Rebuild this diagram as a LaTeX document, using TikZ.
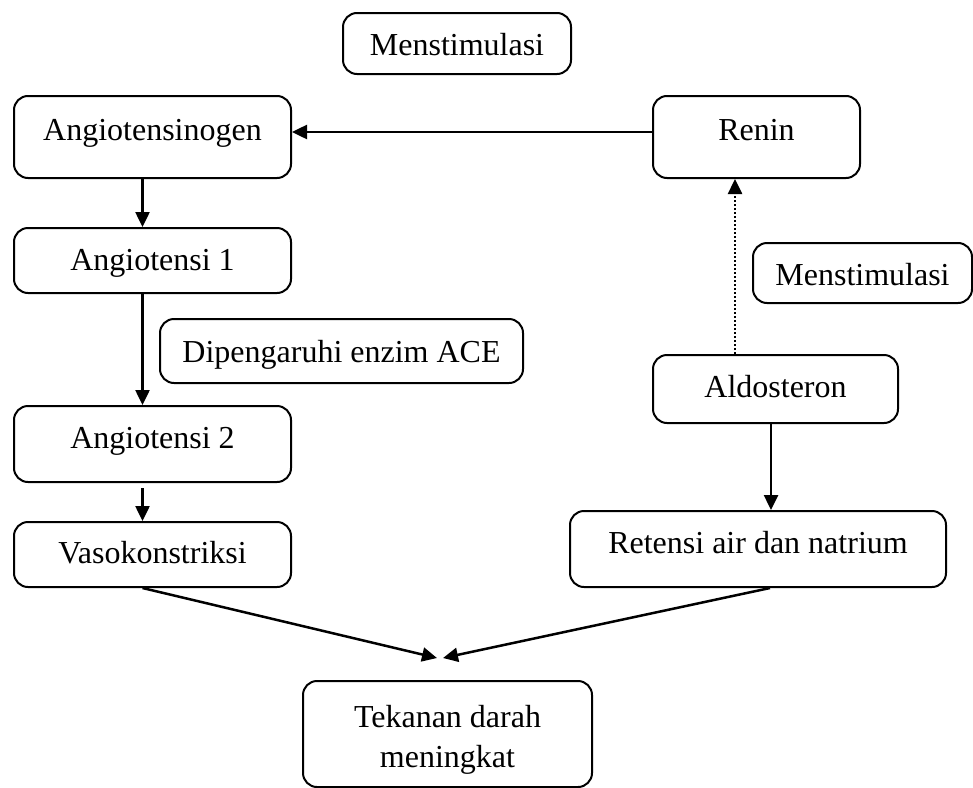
\documentclass[tikz,border=0pt]{standalone}
\usepackage{fontspec}
\setmainfont{Liberation Serif}
\usetikzlibrary{arrows.meta}

\tikzset{
  kotak/.style={draw, rounded corners=14pt, line width=2pt, inner sep=0pt,
    align=center, font=\fontsize{32pt}{40pt}\selectfont},
  panah/.style={line width=2.5pt, -{Triangle[length=15pt,width=14pt]}}
}

\begin{document}
\begin{tikzpicture}[x=1pt,y=-1pt]
\useasboundingbox (0,0) rectangle (973,787);

\node [kotak, minimum width=228pt, text height=42pt, text depth=19pt] (stim1) at (457,43.5) {Menstimulasi};
\node [kotak, minimum width=277pt, text height=44pt, text depth=38pt] (ango) at (152.5,137) {Angiotensinogen};
\node [kotak, minimum width=207pt, text height=44pt, text depth=38pt] (renin) at (756.5,137) {Renin};
\node [kotak, minimum width=277pt, text height=42pt, text depth=23pt] (ang1) at (152.5,260.5) {Angiotensi 1};
\node [kotak, minimum width=363pt, text height=43pt, text depth=21pt] (ace) at (341.5,351) {Dipengaruhi enzim ACE};
\node [kotak, minimum width=219pt, text height=42pt, text depth=18pt] (stim2) at (862.5,273) {Menstimulasi};
\node [kotak, minimum width=245pt, text height=42pt, text depth=26pt] (aldo) at (775.5,389) {Aldosteron};
\node [kotak, minimum width=277pt, text height=42pt, text depth=34pt] (ang2) at (152.5,444) {Angiotensi 2};
\node [kotak, minimum width=277pt, text height=41pt, text depth=24pt] (vaso) at (152.5,554.5) {Vasokonstriksi};
\node [kotak, minimum width=376pt, text height=42pt, text depth=34pt] (ret) at (758,549) {Retensi air dan natrium};
\node [kotak, minimum width=289pt, text height=86pt, text depth=20pt] (tek) at (447.5,734) {Tekanan darah\\meningkat};

\coordinate (tL) at (437,658);
\coordinate (tR) at (443,658);

% jalur kiri
\draw [panah] ([yshift=5pt]renin.west) -- ([yshift=5pt]ango.east);
\draw [panah] ([xshift=-10pt]ango.south) -- ([xshift=-10pt]ang1.north);
\draw [panah] ([xshift=-10pt]ang1.south) -- ([xshift=-10pt]ang2.north);
\draw [panah] ([xshift=-10pt,yshift=-5pt]ang2.south) -- ([xshift=-10pt]vaso.north);

% jalur kanan
\draw [panah, dash pattern=on 2pt off 2pt] ([xshift=-40.5pt]aldo.north) -- ([xshift=-21.5pt]renin.south);
\draw [panah] ([xshift=-4.5pt]aldo.south) -- ([xshift=13pt]ret.north);

\draw [panah] ([xshift=-10pt]vaso.south) -- (tL);
\draw [panah] ([xshift=12pt]ret.south) -- (tR);

\end{tikzpicture}
\end{document}
